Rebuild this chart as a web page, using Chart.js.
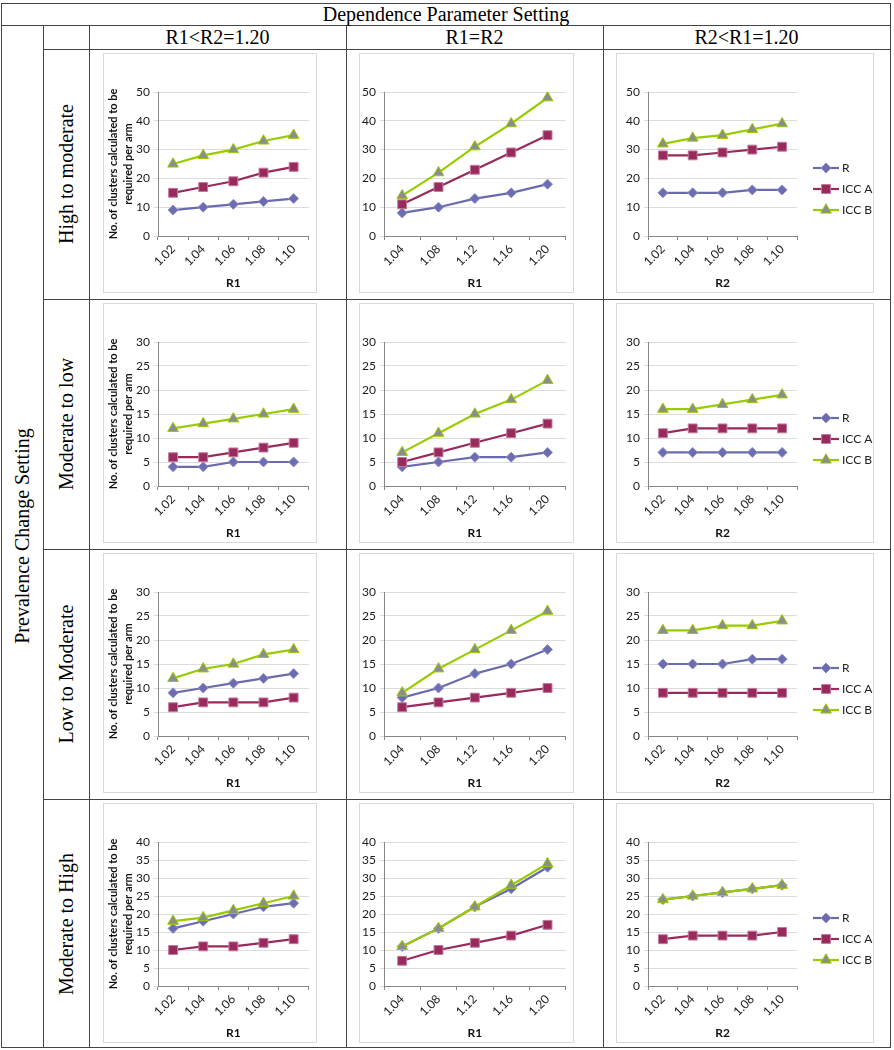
<!DOCTYPE html>
<html><head><meta charset="utf-8">
<script src="https://cdn.jsdelivr.net/npm/chart.js@4.4.1/dist/chart.umd.min.js"></script>
<style>
body{margin:0;background:#fff;width:894px;height:1050px;overflow:hidden;position:relative;font-family:"Liberation Serif","Times New Roman",serif;}
.h{position:absolute;height:0;border-top:1px solid #444;}
.v{position:absolute;width:0;border-left:1px solid #444;}
.t{position:absolute;font-size:20px;color:#000;white-space:nowrap;transform:translate(-50%,-50%);line-height:1;}
.r{transform:translate(-50%,-50%) rotate(-90deg);}
.panel{position:absolute;border:1px solid #d9d9d9;background:#fff;}
canvas{display:block;}
</style></head><body>
<script>
// ---------- labels ----------
const headerTitle = 'Dependence Parameter Setting';
const columnTitles = ['R1<R2=1.20', 'R1=R2', 'R2<R1=1.20'];
const sideTitle = 'Prevalence Change Setting';
const rowTitles = ['High to moderate', 'Moderate to low', 'Low to Moderate', 'Moderate to High'];
const seriesNames = ['R', 'ICC A', 'ICC B'];
const xLabelsR1small = ['1.02', '1.04', '1.06', '1.08', '1.10'];
const xLabelsR1R2 = ['1.04', '1.08', '1.12', '1.16', '1.20'];
const xLabelsR2small = ['1.02', '1.04', '1.06', '1.08', '1.10'];
const xTitles = ['R1', 'R1', 'R2'];
const yMaxByRow = [50, 30, 30, 40];
const yTitleLines = ['No. of clusters calculated to be', 'required per arm'];

// ---------- data: High to moderate ----------
const hm_c1_R = [9, 10, 11, 12, 13];
const hm_c1_A = [15, 17, 19, 22, 24];
const hm_c1_B = [25, 28, 30, 33, 35];
const hm_c2_R = [8, 10, 13, 15, 18];
const hm_c2_A = [11, 17, 23, 29, 35];
const hm_c2_B = [14, 22, 31, 39, 48];
const hm_c3_R = [15, 15, 15, 16, 16];
const hm_c3_A = [28, 28, 29, 30, 31];
const hm_c3_B = [32, 34, 35, 37, 39];
// ---------- data: Moderate to low ----------
const ml_c1_R = [4, 4, 5, 5, 5];
const ml_c1_A = [6, 6, 7, 8, 9];
const ml_c1_B = [12, 13, 14, 15, 16];
const ml_c2_R = [4, 5, 6, 6, 7];
const ml_c2_A = [5, 7, 9, 11, 13];
const ml_c2_B = [7, 11, 15, 18, 22];
const ml_c3_R = [7, 7, 7, 7, 7];
const ml_c3_A = [11, 12, 12, 12, 12];
const ml_c3_B = [16, 16, 17, 18, 19];
// ---------- data: Low to Moderate ----------
const lm_c1_R = [9, 10, 11, 12, 13];
const lm_c1_A = [6, 7, 7, 7, 8];
const lm_c1_B = [12, 14, 15, 17, 18];
const lm_c2_R = [8, 10, 13, 15, 18];
const lm_c2_A = [6, 7, 8, 9, 10];
const lm_c2_B = [9, 14, 18, 22, 26];
const lm_c3_R = [15, 15, 15, 16, 16];
const lm_c3_A = [9, 9, 9, 9, 9];
const lm_c3_B = [22, 22, 23, 23, 24];
// ---------- data: Moderate to High ----------
const mh_c1_R = [16, 18, 20, 22, 23];
const mh_c1_A = [10, 11, 11, 12, 13];
const mh_c1_B = [18, 19, 21, 23, 25];
const mh_c2_R = [11, 16, 22, 27, 33];
const mh_c2_A = [7, 10, 12, 14, 17];
const mh_c2_B = [11, 16, 22, 28, 34];
const mh_c3_R = [24, 25, 26, 27, 28];
const mh_c3_A = [13, 14, 14, 14, 15];
const mh_c3_B = [24, 25, 26, 27, 28];

const panelData = [
  [[hm_c1_R, hm_c1_A, hm_c1_B], [hm_c2_R, hm_c2_A, hm_c2_B], [hm_c3_R, hm_c3_A, hm_c3_B]],
  [[ml_c1_R, ml_c1_A, ml_c1_B], [ml_c2_R, ml_c2_A, ml_c2_B], [ml_c3_R, ml_c3_A, ml_c3_B]],
  [[lm_c1_R, lm_c1_A, lm_c1_B], [lm_c2_R, lm_c2_A, lm_c2_B], [lm_c3_R, lm_c3_A, lm_c3_B]],
  [[mh_c1_R, mh_c1_A, mh_c1_B], [mh_c2_R, mh_c2_A, mh_c2_B], [mh_c3_R, mh_c3_A, mh_c3_B]]
];
const xLabelsByCol = [xLabelsR1small, xLabelsR1R2, xLabelsR2small];

// ---------- styles ----------
const seriesStyle = [
  {line: '#6a6aae', fill: '#6c6cb0', border: '#9090c8', shape: 'rectRot', r: 5},
  {line: '#982a5c', fill: '#982a5c', border: '#c57aa0', shape: 'rect', r: 6.3},
  {line: '#99cc00', fill: '#8c8c8c', border: '#99cc00', shape: 'triangle', r: 6.2}
];

// ---------- table layout ----------
function el(cls, css, text) {
  const d = document.createElement('div');
  d.className = cls;
  Object.assign(d.style, css);
  if (text !== undefined) d.textContent = text;
  document.body.appendChild(d);
  return d;
}
const L = 1, R = 890, T = 3, B = 1047;
const colX = [43, 89, 346, 603];
const rowTops = [49, 299, 549, 799];
el('h', {left: L + 'px', top: T + 'px', width: (R - L) + 'px'});
el('h', {left: L + 'px', top: '25px', width: (R - L) + 'px'});
el('h', {left: '43px', top: '49px', width: (R - 43) + 'px'});
[299, 549, 799].forEach(y => el('h', {left: '43px', top: y + 'px', width: (R - 43) + 'px'}));
el('h', {left: L + 'px', top: B + 'px', width: (R - L + 1) + 'px'});
el('v', {left: L + 'px', top: T + 'px', height: (B - T) + 'px'});
colX.forEach(x => el('v', {left: x + 'px', top: '25px', height: (B - 25) + 'px'}));
el('v', {left: R + 'px', top: T + 'px', height: (B - T) + 'px'});

el('t', {left: '446px', top: '14px'}, headerTitle);
const colCenters = [(89 + 346) / 2, (346 + 603) / 2, (603 + R) / 2];
columnTitles.forEach((c, i) => el('t', {left: colCenters[i] + 'px', top: '37px'}, c));
el('t r', {left: '22px', top: '536px'}, sideTitle);
rowTitles.forEach((t, i) => el('t r', {left: '66px', top: (rowTops[i] + 125) + 'px'}, t));

// ---------- legend plugin ----------
const sideLegend = {
  id: 'sideLegend',
  afterDraw(chart, args, opts) {
    if (!opts.show) return;
    const ctx = chart.ctx;
    chart.data.datasets.forEach((ds, i) => {
      const y = opts.y0 + i * opts.dy;
      ctx.save();
      ctx.strokeStyle = ds.borderColor;
      ctx.lineWidth = ds.borderWidth;
      ctx.beginPath(); ctx.moveTo(opts.x0, y); ctx.lineTo(opts.x0 + opts.w, y); ctx.stroke();
      ctx.fillStyle = ds.pointBackgroundColor;
      ctx.strokeStyle = ds.pointBorderColor;
      ctx.lineWidth = 1;
      Chart.helpers.drawPoint(ctx, {pointStyle: ds.pointStyle, radius: ds.pointRadius, borderWidth: 1, rotation: 0}, opts.x0 + opts.w / 2, y);
      ctx.fillStyle = '#222';
      ctx.font = '12px Lato';
      ctx.textBaseline = 'middle';
      ctx.textAlign = 'left';
      ctx.fillText(ds.label, opts.x0 + opts.w + 3, y);
      ctx.restore();
    });
  }
};

// ---------- panels ----------
const panelLeft = [103, 359, 616];
const panelOuterW = [214, 215, 258];
const panelOuterH = 240;
const yAxisW = [54, 24, 31];
const padRight = [4, 6, 76];
const padTop = 38;
const xAxisH = 56;
const tickFont = {family: 'Lato', size: 12};

rowTops.forEach((rt, ri) => {
  for (let ci = 0; ci < 3; ci++) {
    const p = el('panel', {left: panelLeft[ci] + 'px', top: (rt + 4) + 'px',
      width: (panelOuterW[ci] - 2) + 'px', height: (panelOuterH - 2) + 'px'});
    const cv = document.createElement('canvas');
    cv.width = panelOuterW[ci] - 2;
    cv.height = panelOuterH - 2;
    p.appendChild(cv);
    const datasets = seriesNames.map((name, si) => ({
      label: name,
      data: panelData[ri][ci][si],
      borderColor: seriesStyle[si].line,
      borderWidth: 2.2,
      pointStyle: seriesStyle[si].shape,
      pointRadius: seriesStyle[si].r,
      pointBackgroundColor: seriesStyle[si].fill,
      pointBorderColor: seriesStyle[si].border,
      pointBorderWidth: 1,
      tension: 0,
      order: 3 - si
    }));
    new Chart(cv, {
      type: 'line',
      data: {labels: xLabelsByCol[ci], datasets},
      options: {
        responsive: false, animation: false, devicePixelRatio: 1,
        layout: {padding: {top: padTop, right: padRight[ci], left: 0, bottom: 0}},
        plugins: {
          legend: {display: false}, tooltip: {enabled: false},
          sideLegend: {show: ci === 2, x0: 196, w: 26, y0: 114, dy: 21}
        },
        scales: {
          x: {
            type: 'category', offset: true,
            grid: {offset: true, drawOnChartArea: false, drawTicks: true, tickLength: 4, color: '#868686'},
            border: {color: '#868686'},
            ticks: {autoSkip: false, minRotation: 45, maxRotation: 45, font: tickFont, color: '#1a1a1a', padding: 2},
            title: {display: true, text: xTitles[ci], font: {family: 'Lato', size: 12, weight: 'bold'}, color: '#111', padding: {top: 4, bottom: 2}},
            afterFit(s) { s.height = xAxisH; }
          },
          y: {
            min: 0, max: yMaxByRow[ri],
            ticks: {stepSize: 5, font: tickFont, color: '#1a1a1a', padding: 4},
            grid: {color: '#dcdcdc', tickLength: 4, drawTicks: true},
            border: {color: '#868686'},
            title: {display: ci === 0, text: yTitleLines, font: {family: 'Lato', size: 11, weight: 'bold', lineHeight: 1.45}, color: '#111', padding: {top: 1, bottom: 0}},
            afterFit(s) { s.width = yAxisW[ci]; }
          }
        }
      },
      plugins: [sideLegend]
    });
  }
});
</script>
</body></html>
